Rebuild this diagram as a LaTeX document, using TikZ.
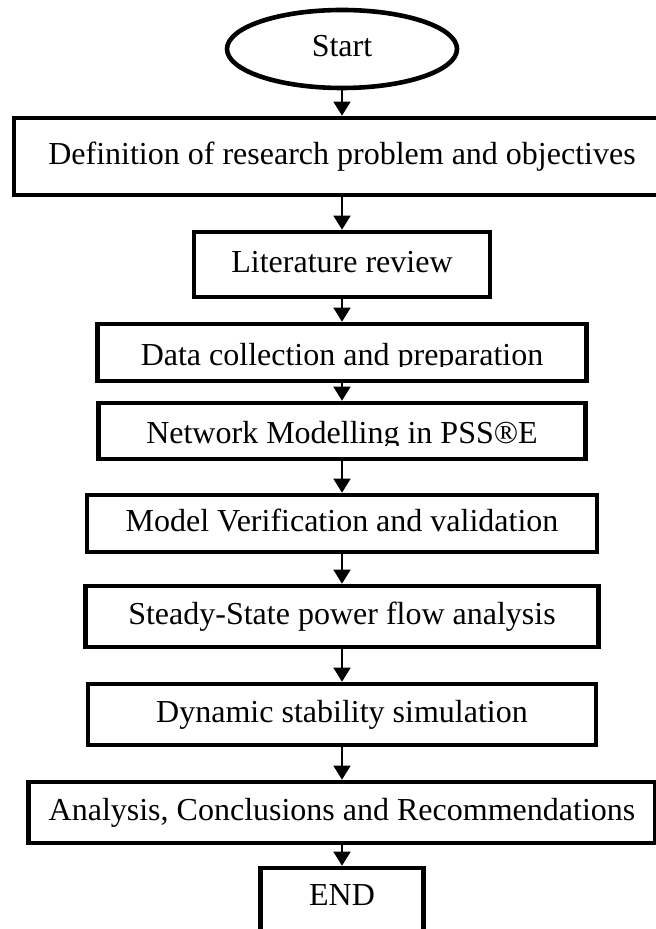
\documentclass[tikz,border=0pt]{standalone}
\usepackage{fontspec}
\setmainfont{Liberation Serif}
\usetikzlibrary{shapes.geometric, arrows.meta}

\begin{document}
\begin{tikzpicture}[x=0.5pt, y=-0.5pt,
            every node/.style={font=\fontsize{16pt}{19pt}\selectfont},
            box/.style={draw, line width=2.3pt, inner sep=0pt, text height=0.8em, text depth=0pt},
            cutbox/.style={box, path picture={
                \clip (path picture bounding box.north west) rectangle ([yshift=7pt]path picture bounding box.south east);
                \node[inner sep=0pt, anchor=base] at ([yshift=-6.4pt]path picture bounding box.center) {#1};}},
            flow/.style={-{Triangle[width=8.5pt, length=7pt]}, line width=0.8pt}]
            \useasboundingbox (0,0) rectangle (656,929);

            \node[box, ellipse, minimum width=115pt, minimum height=39pt] (start) at (342,49) {Start};

            \node[box, minimum width=328pt, minimum height=38.5pt] (defn) at (342,156.5) {Definition of research problem and objectives};
            \node[box, minimum width=148pt, minimum height=32.5pt] (litrev) at (342,264.5) {Literature review};

            % text cut at the baseline
            \node[cutbox={Data collection and preparation}, minimum width=244.5pt, minimum height=28.5pt] (datacoll) at (342,352.5) {};
            \node[cutbox={Network Modelling in PSS®E}, minimum width=243.5pt, minimum height=28pt] (netmod) at (342,431) {};

            \node[box, minimum width=255pt, minimum height=28.5pt] (verif) at (342,523.5) {Model Verification and validation};
            \node[box, minimum width=256.5pt, minimum height=30.5pt] (powflow) at (342,616.5) {Steady-State power flow analysis};
            \node[box, minimum width=254pt, minimum height=30.5pt] (dynsim) at (342,714.5) {Dynamic stability simulation};
            \node[box, minimum width=313.5pt, minimum height=30.5pt] (analysis) at (342,812.5) {Analysis, Conclusions and Recommendations};
            \node[box, minimum width=81.5pt, minimum height=33pt, text height=0.66em, text depth=0.22em] (stop) at (342,901) {END};

            % arrows
            \draw[flow] (start) -- (defn);
            \draw[flow] (defn) -- (litrev);
            \draw[flow] (litrev) -- (datacoll);
            \draw[flow, shorten <=-2pt] (datacoll) -- (netmod);
            \draw[flow] (netmod) -- (verif);
            \draw[flow] (verif) -- (powflow);
            \draw[flow] (powflow) -- (dynsim);
            \draw[flow] (dynsim) -- (analysis);
            \draw[flow, shorten <=-2pt] (analysis) -- (stop);
        \end{tikzpicture}
\end{document}
